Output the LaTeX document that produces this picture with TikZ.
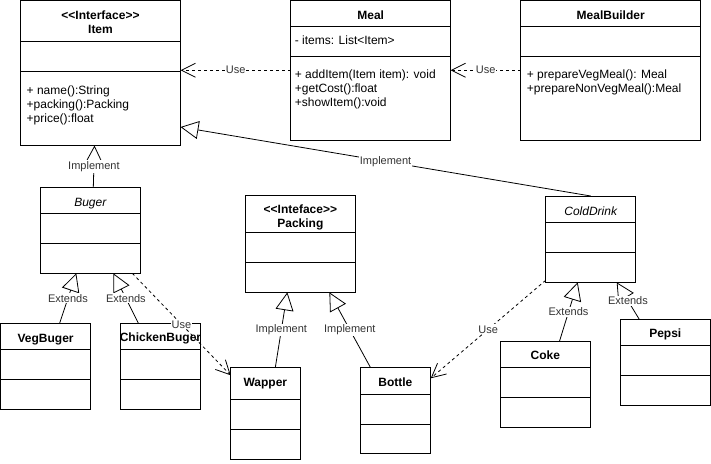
\documentclass[tikz,border=0pt]{standalone}
\usepackage{fontspec}
\setmainfont{Liberation Sans}
\usepackage{tikz}
\usetikzlibrary{arrows.meta}
\newcommand{\stereo}[1]{<\kern0pt<#1>\kern0pt>}
\tikzset{
    umlbox/.style={draw, line width=1pt, anchor=north west, inner sep=0pt, outer sep=0pt},
    clsname/.style={font=\fontsize{12}{14}\selectfont\bfseries, align=center, inner sep=0pt},
    absname/.style={font=\fontsize{12}{14}\selectfont\itshape, inner sep=0pt, anchor=base},
    members/.style={font=\fontsize{12}{14}\selectfont, align=left, anchor=north west, inner sep=0pt},
    edgelabel/.style={font=\fontsize{11}{13}\selectfont, text=black!80, fill=white, inner sep=1pt},
    use/.style={line width=0.8pt, dash pattern=on 3pt off 3pt, -{Straight Barb[length=14pt, width=14pt]}},
    realize/.style={line width=0.8pt, -{Triangle[open, length=18pt, width=18pt]}}
}

\begin{document}
\begin{tikzpicture}[x=1pt, y=-1pt]
    \useasboundingbox (0,0) rectangle (711,463);

    % Item
    \node[umlbox, minimum width=160, minimum height=145] (Item) at (20.5,0.5) {};
    \node[clsname] (ItemName) at ([yshift=-22]Item.north) {\stereo{Interface}\\Item};
    \node[members] (ItemOps) at ([xshift=6, yshift=-85]Item.north west) {+ name():String\\+packing():Packing\\+price():float};

    % Meal
    \node[umlbox, minimum width=160, minimum height=139.5] (Meal) at (290.7,0.5) {};
    \node[clsname, anchor=base] (MealName) at ([yshift=-19.3]Meal.north) {Meal};
    \node[members, anchor=base west] (MealAttr) at ([xshift=4, yshift=-43.6]Meal.north west) {- items: List<Item>};
    \node[members] (MealOps) at ([xshift=4, yshift=-69]Meal.north west) {+ addItem(Item item): void\\+getCost():float\\+showItem():void};

    % MealBuilder
    \node[umlbox, minimum width=180, minimum height=139.5] (MealBuilder) at (520.7,0.5) {};
    \node[clsname, anchor=base] (BuilderName) at ([yshift=-19.3]MealBuilder.north) {MealBuilder};
    \node[members] (BuilderOps) at ([xshift=6, yshift=-69]MealBuilder.north west) {+ prepareVegMeal(): Meal\\+prepareNonVegMeal():Meal};

    % Buger
    \node[umlbox, minimum width=100, minimum height=86] (Buger) at (40.3,187.3) {};
    \node[absname] (BugerName) at ([yshift=-18.7]Buger.north) {Buger};
    \node[umlbox, minimum width=90.2, minimum height=86] (VegBuger) at (0.5,323.3) {};
    \node[clsname, anchor=base] (VegBugerName) at ([yshift=-19.3]VegBuger.north) {VegBuger};
    \node[umlbox, minimum width=80.3, minimum height=86] (ChickenBuger) at (120.3,323.3) {};
    \node[clsname, anchor=base] (ChickenBugerName) at ([yshift=-18.3]ChickenBuger.north) {ChickenBuger};

    % Packing
    \node[umlbox, minimum width=110.7, minimum height=97.3] (Packing) at (245,195) {};
    \node[clsname] (PackingName) at ([yshift=-22]Packing.north) {\stereo{Inteface}\\Packing};
    \node[umlbox, minimum width=69.3, minimum height=92] (Wapper) at (230.7,367.3) {};
    \node[clsname, anchor=base] (WapperName) at ([yshift=-18.7]Wapper.north) {Wapper};
    \node[umlbox, minimum width=70.7, minimum height=86] (Bottle) at (360,367.3) {};
    \node[clsname, anchor=base] (BottleName) at ([yshift=-18.7]Bottle.north) {Bottle};

    % ColdDrink
    \node[umlbox, minimum width=90, minimum height=86.3] (ColdDrink) at (545.7,196) {};
    \node[absname] (ColdDrinkName) at ([yshift=-19.3]ColdDrink.north) {ColdDrink};
    \node[umlbox, minimum width=90.7, minimum height=85.6] (Coke) at (500,341.7) {};
    \node[clsname, anchor=base] (CokeName) at ([yshift=-17.6]Coke.north) {Coke};
    \node[umlbox, minimum width=90.5, minimum height=86.4] (Pepsi) at (620,319.3) {};
    \node[clsname, anchor=base] (PepsiName) at ([yshift=-18.3]Pepsi.north) {Pepsi};

    % compartments
    \foreach \c/\a/\b in {Item/41/71, Meal/26/56, MealBuilder/26/56, Buger/26/56, VegBuger/26/56,
        ChickenBuger/26/56, Packing/37.3/67.3, Wapper/32/62, Bottle/26.7/56.7,
        ColdDrink/26.3/56.3, Coke/25.6/55.6, Pepsi/25.7/56.4}
        \draw[line width=1pt] ([yshift=-\a]\c.north west) -- ([yshift=-\a]\c.north east)
            ([yshift=-\b]\c.north west) -- ([yshift=-\b]\c.north east);

    % Use
    \draw[use] (Meal.west) -- node[edgelabel] {Use} (Meal.west -| Item.east);
    \draw[use] (MealBuilder.west) -- node[edgelabel] {Use} (Meal.east);
    \draw[use] ([xshift=42]Buger.south) -- node[edgelabel] {Use} ([yshift=-8]Wapper.north west);
    \draw[use] ([yshift=2]ColdDrink.south west) -- node[edgelabel] {Use} ([yshift=-11]Bottle.north east);

    % Implement
    \draw[realize] ([xshift=3]Buger.north) -- node[edgelabel] {Implement} ([xshift=-6]Item.south);
    \draw[realize] (ColdDrink.north) -- node[edgelabel] {Implement} ([yshift=-54]Item.east);
    \draw[realize] ([xshift=10]Wapper.north) -- node[edgelabel] {Implement} ([xshift=-13]Packing.south);
    \draw[realize] ([xshift=-25]Bottle.north) -- node[edgelabel] {Implement} ([xshift=29]Packing.south);

    % Extends
    \draw[realize] ([xshift=14]VegBuger.north) -- node[edgelabel] {Extends} ([xshift=-14]Buger.south);
    \draw[realize] ([xshift=-22]ChickenBuger.north) -- node[edgelabel] {Extends} ([xshift=23]Buger.south);
    \draw[realize] ([xshift=14]Coke.north) -- node[edgelabel] {Extends} ([xshift=-13]ColdDrink.south);
    \draw[realize] ([xshift=-26]Pepsi.north) -- node[edgelabel] {Extends} ([xshift=26]ColdDrink.south);
\end{tikzpicture}
\end{document}
